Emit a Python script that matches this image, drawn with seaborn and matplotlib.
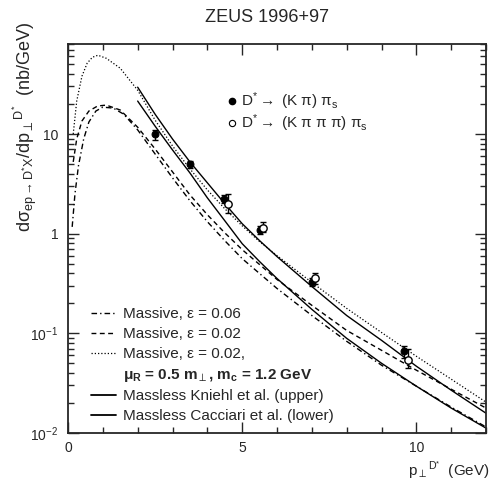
import numpy as np
import pandas as pd
import matplotlib
matplotlib.use("Agg")
import matplotlib.pyplot as plt
import seaborn as sns
from matplotlib.lines import Line2D
from matplotlib.ticker import FixedLocator, FixedFormatter, LogLocator, NullFormatter, MultipleLocator

# ---------------- data ----------------
# Data points: D* -> (K pi) pi_s  (filled)
kpi_x = [2.5, 3.5, 4.47, 5.5, 7.0, 9.65]
kpi_y = [9.9, 5.0, 2.25, 1.1, 0.33, 0.066]
kpi_err = [1.1, 0.4, 0.2, 0.1, 0.03, 0.009]

# Data points: D* -> (K pi pi pi) pi_s  (open)
k3pi_x = [4.6, 5.6, 7.1, 9.75]
k3pi_y = [2.0, 1.15, 0.355, 0.054]
k3pi_err_lo = [0.38, 0.12, 0.04, 0.009]
k3pi_err_hi = [0.5, 0.17, 0.045, 0.015]

# Massive, eps = 0.06 (dash-dot)
m06_x = [0.12, 0.2, 0.3, 0.45, 0.6, 0.8, 1.0, 1.3, 1.6, 2.0, 2.5, 3.0, 3.5, 4.0, 4.5, 5.0,
         6.0, 7.0, 8.0, 9.0, 10.0, 11.0, 12.0]
m06_y = [1.17, 2.51, 4.79, 8.91, 13.2, 17.0, 18.6, 18.2, 15.8, 11.0, 6.31, 3.63, 2.14, 1.32,
         0.851, 0.562, 0.282, 0.151, 0.0832, 0.0479, 0.0295, 0.0182, 0.0115]

# Massive, eps = 0.02 (dashed)
m02_x = [0.15, 0.25, 0.4, 0.6, 0.85, 1.1, 1.5, 2.0, 2.5, 3.0, 3.5, 4.0, 4.5, 5.0,
         6.0, 7.0, 8.0, 9.0, 10.0, 11.0, 12.0]
m02_y = [5.25, 8.91, 13.5, 17.0, 19.1, 19.5, 17.4, 11.7, 7.08, 4.17, 2.45, 1.55, 1.02, 0.692,
         0.347, 0.191, 0.107, 0.0676, 0.0427, 0.0275, 0.0178]

# Massive, eps = 0.02, muR = 0.5 mT, mc = 1.2 GeV (dotted)
m02b_x = [0.15, 0.25, 0.4, 0.55, 0.7, 0.86, 1.1, 1.5, 2.0, 2.5, 3.0, 3.5, 4.0, 4.5, 5.0, 5.5,
          6.0, 7.0, 8.0, 9.0, 10.0, 11.0, 12.0]
m02b_y = [10.0, 21.4, 38.0, 51.3, 58.9, 61.7, 57.5, 45.7, 27.5, 13.8, 7.59, 4.47, 2.75, 1.78,
          1.20, 0.832, 0.603, 0.324, 0.178, 0.102, 0.0589, 0.0347, 0.0204]

# Massless Kniehl et al. (upper solid)
kn_x = [2.0, 2.5, 3.0, 3.5, 4.0, 4.5, 5.0, 5.5, 6.0, 7.0, 8.0, 9.0, 10.0, 11.0, 12.0]
kn_y = [29.5, 15.8, 8.91, 5.25, 3.24, 2.0, 1.26, 0.851, 0.589, 0.295, 0.151, 0.0851, 0.0468,
        0.0269, 0.0158]

# Massless Cacciari et al. (lower solid)
ca_x = [2.0, 2.5, 3.0, 3.5, 4.0, 4.5, 5.0, 5.5, 6.0, 7.0, 8.0, 9.0, 10.0, 11.0, 12.0]
ca_y = [21.4, 12.0, 6.92, 4.07, 2.29, 1.35, 0.794, 0.525, 0.355, 0.174, 0.0891, 0.0501, 0.0295,
        0.0178, 0.0112]

xtick_vals = [0, 5, 10]
xtick_labels = ["0", "5", "10"]
ytick_vals = [0.01, 0.1, 1, 10]
ytick_labels = [r"$\mathregular{10^{-2}}$", r"$\mathregular{10^{-1}}$", "1", "10"]

title = "ZEUS 1996+97"
legend_curves = [
    "Massive, ε = 0.06",
    "Massive, ε = 0.02",
    "Massive, ε = 0.02,",
    r"μ$_\mathbf{R}$ = 0.5 m$_{\perp}$, m$_\mathbf{c}$ = 1.2 GeV",
    "Massless Kniehl et al. (upper)",
    "Massless Cacciari et al. (lower)",
]
legend_data = [r"$\mathregular{D^{*} \rightarrow\ (K\ \pi)\ \pi_{s}}$",
               r"$\mathregular{D^{*} \rightarrow\ (K\ \pi\ \pi\ \pi)\ \pi_{s}}$"]

# ---------------- style ----------------
sns.set_style("ticks")
plt.rcParams["font.family"] = ["Liberation Sans", "DejaVu Sans"]
plt.rcParams["mathtext.fontset"] = "custom"
plt.rcParams["mathtext.rm"] = "Liberation Sans"
plt.rcParams["mathtext.it"] = "Liberation Sans:italic"
plt.rcParams["mathtext.bf"] = "Liberation Sans:bold"
plt.rcParams["mathtext.sf"] = "Liberation Sans"

fig = plt.figure(figsize=(4.94, 4.82), dpi=100)
ax = fig.add_axes([68 / 494, 1 - 433 / 482, (486 - 68) / 494, (433 - 44) / 482])

ls_dd = (0, (4, 2.2, 1, 2.2))
ls_da = (0, (3.5, 2.5))
ls_do = (0, (1, 1.6))
lw = 1.0

curves = [
    (m06_x, m06_y, ls_dd, lw),
    (m02_x, m02_y, ls_da, lw),
    (m02b_x, m02b_y, ls_do, 0.9),
    (kn_x, kn_y, "-", lw),
    (ca_x, ca_y, "-", lw),
]
for xs, ys, ls, w in curves:
    sns.lineplot(x=xs, y=ys, ax=ax, color="black", linestyle=ls, linewidth=w, sort=True,
                 estimator=None)

# error bars + markers
ax.errorbar(kpi_x, kpi_y, yerr=kpi_err, fmt="none", ecolor="black", elinewidth=1.0,
            capsize=2.5, capthick=1.0)
ax.errorbar(k3pi_x, k3pi_y, yerr=[k3pi_err_lo, k3pi_err_hi], fmt="none", ecolor="black",
            elinewidth=1.0, capsize=2.5, capthick=1.0)
sns.scatterplot(x=kpi_x, y=kpi_y, ax=ax, color="black", s=24, marker="o", edgecolor="black",
                linewidth=0.8, zorder=5)
sns.scatterplot(x=k3pi_x, y=k3pi_y, ax=ax, color="white", s=28, marker="o", edgecolor="black",
                linewidth=1.0, zorder=6)

ax.set_yscale("log")
ax.set_xlim(0, 12)
ax.set_ylim(0.01, 80)

ax.xaxis.set_major_locator(FixedLocator(xtick_vals))
ax.xaxis.set_major_formatter(FixedFormatter(xtick_labels))
ax.xaxis.set_minor_locator(MultipleLocator(1))
ax.yaxis.set_major_locator(FixedLocator(ytick_vals))
ax.yaxis.set_major_formatter(FixedFormatter(ytick_labels))
ax.yaxis.set_minor_locator(LogLocator(base=10, subs=np.arange(2, 10) * 1.0, numticks=20))
ax.yaxis.set_minor_formatter(NullFormatter())

ax.tick_params(which="both", direction="in", top=True, right=True, width=1.0, labelsize=10)
ax.tick_params(which="major", length=8)
ax.tick_params(which="minor", length=4.5)
ax.tick_params(axis="y", pad=7)
ax.tick_params(axis="x", pad=6)
for s in ax.spines.values():
    s.set_linewidth(1.3)
    s.set_visible(True)
ax.set_xlabel("")
ax.set_ylabel("")

# title and axis labels
fig.text(267 / 494, 1 - 17 / 482, title, ha="center", va="center", fontsize=13)
fig.text(490 / 494, 1 - 470 / 482, r"$\mathregular{p_{\perp}{}^{D^{*}}}$  (GeV)",
         ha="right", va="center", fontsize=11)
fig.text(25 / 494, 1 - 127 / 482,
         r"$\mathregular{d\sigma_{ep \rightarrow D^{*}X}/dp_{\perp}{}^{D^{*}}}$  (nb/GeV)",
         ha="center", va="center", rotation=90, fontsize=13)

# curve legend
h_curves = [
    Line2D([], [], color="black", linestyle=ls_dd, linewidth=lw),
    Line2D([], [], color="black", linestyle=ls_da, linewidth=lw),
    Line2D([], [], color="black", linestyle=ls_do, linewidth=0.9),
    Line2D([], [], color="none"),
    Line2D([], [], color="black", linestyle="-", linewidth=1.3),
    Line2D([], [], color="black", linestyle="-", linewidth=1.3),
]
leg1 = ax.legend(h_curves, legend_curves, loc="lower left", bbox_to_anchor=(0.055, 0.025),
                 frameon=False, fontsize=11, handlelength=1.65, handletextpad=0.45,
                 labelspacing=0.38, borderpad=0, borderaxespad=0)
for t in leg1.get_texts()[3:4]:
    t.set_fontweight("bold")
ax.add_artist(leg1)

h_data = [
    Line2D([], [], color="black", marker="o", linestyle="none", markersize=4.5,
           markerfacecolor="black"),
    Line2D([], [], color="black", marker="o", linestyle="none", markersize=4.5,
           markerfacecolor="white", markeredgewidth=0.8),
]
leg2 = ax.legend(h_data, legend_data, loc="upper left", bbox_to_anchor=(0.382, 0.88),
                 frameon=False, fontsize=11, handlelength=0.6, handletextpad=0.3,
                 labelspacing=0.02, borderpad=0, borderaxespad=0)

fig.savefig("out.png", dpi=100)
